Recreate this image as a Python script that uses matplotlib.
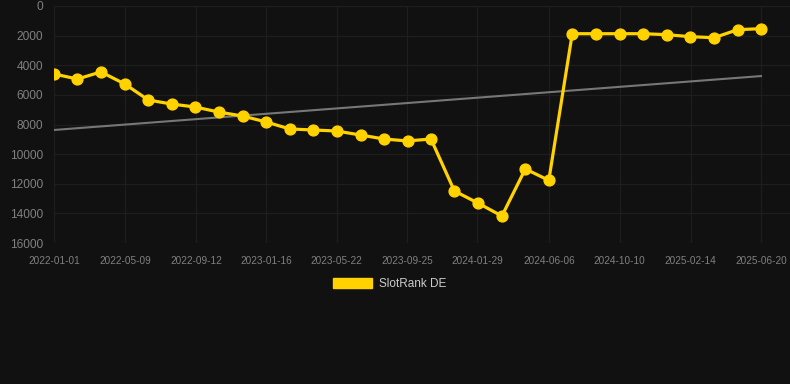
import matplotlib
matplotlib.use('agg')
import matplotlib.pyplot as plt
import matplotlib.dates as mdates
from matplotlib.patches import Patch
import numpy as np
import datetime as dt

## data
dates = ["2022-01-01", "2022-02-12", "2022-03-26", "2022-05-08", "2022-06-19",
         "2022-07-31", "2022-09-11", "2022-10-23", "2022-12-05", "2023-01-16",
         "2023-02-27", "2023-04-10", "2023-05-22", "2023-07-04", "2023-08-15",
         "2023-09-26", "2023-11-07", "2023-12-19", "2024-01-31", "2024-03-13",
         "2024-04-24", "2024-06-05", "2024-07-17", "2024-08-29", "2024-10-10",
         "2024-11-21", "2025-01-02", "2025-02-13", "2025-03-28", "2025-05-09",
         "2025-06-20"]
rank = [4590, 4930, 4450, 5270, 6350, 6620, 6820, 7160, 7430, 7830,
        8300, 8370, 8440, 8710, 8980, 9110, 8980, 12490, 13320, 14180,
        11000, 11770, 1870, 1870, 1870, 1870, 1935, 2070, 2140, 1600,
        1530]
trend_dates = ["2022-01-01", "2025-06-20"]
trend_vals = [8370, 4730]
tick_dates = ["2022-01-01", "2022-05-09", "2022-09-12", "2023-01-16", "2023-05-22",
              "2023-09-25", "2024-01-29", "2024-06-06", "2024-10-10", "2025-02-14",
              "2025-06-20"]
y_ticks = [0, 2000, 4000, 6000, 8000, 10000, 12000, 14000, 16000]
series_name = "SlotRank DE"

bg = '#111111'
yellow = '#FFD200'

plt.rcParams['font.family'] = ['Liberation Sans', 'DejaVu Sans']

to_d = lambda s: dt.datetime.strptime(s, "%Y-%m-%d")
x = [to_d(d) for d in dates]
tx = [to_d(d) for d in trend_dates]
ticks = [to_d(d) for d in tick_dates]

fig = plt.figure(figsize=(7.9, 3.84), dpi=100, facecolor=bg)
W, H = 790.0, 384.0
ax = fig.add_axes([54/W, (H-243)/H, (790-54)/W, (243-6)/H], facecolor=bg)

ax.plot(tx, trend_vals, color='#777777', linewidth=1.5, zorder=2)
ax.plot(x, rank, color=yellow, linewidth=2.3, marker='o', markersize=7.8, zorder=3)

x0 = mdates.date2num(ticks[0])
x1 = mdates.date2num(ticks[-1])
ax.set_xlim(x0, x0 + (x1 - x0) * (790 - 54) / (761 - 54))
ax.set_ylim(16000, 0)
ax.set_yticks(y_ticks)
ax.set_xticks(ticks)
ax.set_xticklabels(tick_dates)

ax.grid(True, color='#1e1e1e', linewidth=0.9)
for s in ax.spines.values():
    s.set_visible(False)
ax.tick_params(axis='y', length=0, pad=8, labelsize=8.6, labelcolor='#808080')
ax.tick_params(axis='x', length=0, pad=9, labelsize=7.2, labelcolor='#808080')

fig.legend(handles=[Patch(facecolor=yellow, edgecolor=yellow)], labels=[series_name],
           loc='center', bbox_to_anchor=(389.5/W, 1 - 284/H), frameon=False,
           fontsize=8.5, labelcolor='#cccccc', handlelength=3.3, handleheight=0.9,
           handletextpad=0.6)

plt.savefig('out.png', dpi=100, facecolor=bg)
